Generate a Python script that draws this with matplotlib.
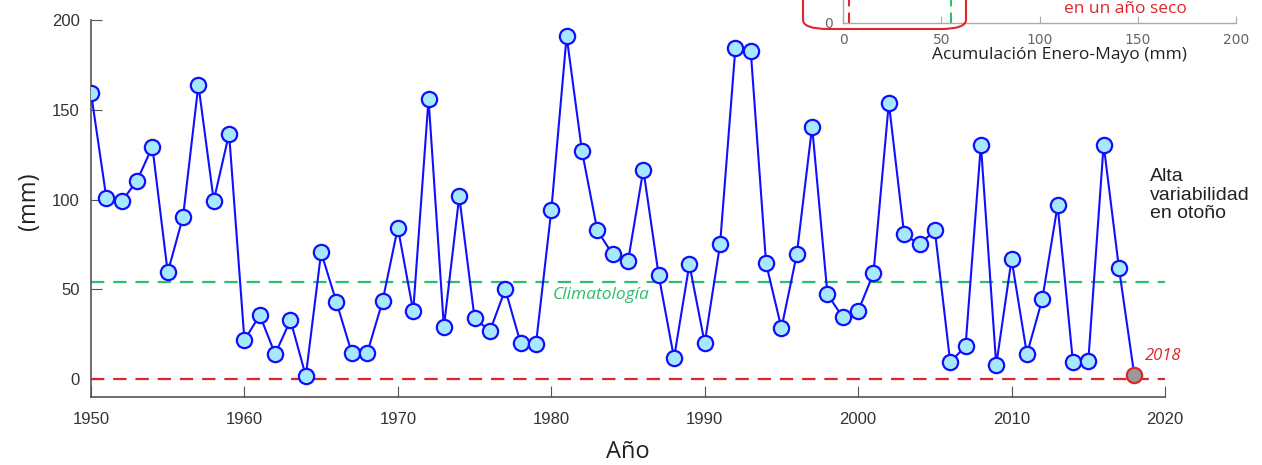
import matplotlib
matplotlib.use("Agg")
import matplotlib.pyplot as plt
from matplotlib.patches import FancyBboxPatch

years = list(range(1950, 2019))
values = [159.4, 101, 99, 110.5, 129.4, 59.4, 90.5, 163.9, 99.4, 136.7,
          21.7, 35.6, 13.9, 32.8, 1.7, 70.6, 42.8, 14.4, 14.4, 43.3,
          84.4, 37.8, 156, 28.9, 101.7, 33.9, 26.7, 50, 20, 19.4,
          93.9, 191, 127, 82.8, 69.4, 65.6, 116.7, 57.8, 11.7, 63.9,
          20, 75, 184.4, 182.8, 64.4, 28.3, 69.4, 140.6, 47.2, 34.4,
          37.8, 58.9, 153.9, 80.6, 75, 82.8, 9.4, 18.3, 130.6, 7.8,
          66.7, 13.9, 44.4, 96.7, 9.4, 10, 130.6, 61.7, 2.2]
climatologia = 54.0
seco = 0.0
xticks = [1950, 1960, 1970, 1980, 1990, 2000, 2010, 2020]
yticks = [0, 50, 100, 150, 200]
inset_xticks = [0, 50, 100, 150, 200]
inset_red = 3
inset_green = 55

W, H = 1262, 465
fig = plt.figure(figsize=(W/100, H/100), dpi=100)
ax = fig.add_axes([91/W, 1-397/H, (1165-91)/W, (397-20)/H])

gray = "#555555"
red = "#e0262c"
green = "#2dbd6b"

ax.axhline(climatologia, color=green, ls=(0, (6, 4)), lw=1.6, zorder=1)
ax.axhline(seco, color=red, ls=(0, (6, 4)), lw=1.6, zorder=1)
ax.plot(years[:-1], values[:-1], color="#1010ff", lw=1.5, marker="o", ms=11,
        mfc="#a8e8ff", mec="#1010ff", mew=1.6, zorder=3)
ax.plot(years[-2:], values[-2:], color="#1010ff", lw=1.5, zorder=2)
ax.plot(years[-1], values[-1], marker="o", ms=11, mfc="#999999", mec=red,
        mew=1.6, zorder=4, ls="none")

ax.set_xlim(1950, 2020)
ax.set_ylim(-10, 200)
ax.set_xticks(xticks)
ax.set_yticks(yticks)
for s in ["top", "right"]:
    ax.spines[s].set_visible(False)
for s in ["left", "bottom"]:
    ax.spines[s].set_color(gray)
    ax.spines[s].set_linewidth(1.2)
ax.tick_params(direction="in", length=8, color=gray, labelcolor="#333333",
               labelsize=12, pad=8)
ax.tick_params(axis="x", pad=11)
for lab in ax.get_xticklabels() + ax.get_yticklabels():
    lab.set_family("Liberation Sans")

ax.set_xlabel("Año", fontsize=17, family="Open Sans", color="#222222", labelpad=9)
ax.set_ylabel("(mm)", fontsize=17, family="Open Sans", color="#222222", labelpad=8)
ax.yaxis.set_label_coords(-0.047, 0.52)

ax.text(1980.1, 47, "Climatología", color=green, style="italic",
        fontsize=12.5, family="Open Sans", va="center", ha="left")
ax.text(2018.7, 13, "2018", color=red, style="italic", fontsize=12,
        family="Open Sans", ha="left", va="center")
fig.text(1150/W, 1-195/H, "Alta\nvariabilidad\nen otoño", fontsize=14,
         family="Liberation Sans", color="#222222", va="center", ha="left",
         linespacing=1.15)

# inset (partially cropped)
iax = fig.add_axes([843/W, 1-23/H, (1236-843)/W, 0.35])
iax.set_xlim(0, 200)
iax.set_ylim(0, 10)
iax.set_xticks(inset_xticks)
iax.set_yticks([0])
for s in ["top", "right"]:
    iax.spines[s].set_visible(False)
for s in ["left", "bottom"]:
    iax.spines[s].set_color("#aaaaaa")
    iax.spines[s].set_linewidth(1.0)
iax.tick_params(direction="in", length=5, color="#aaaaaa", labelcolor="#666666",
                labelsize=10, pad=7)
iax.patch.set_alpha(0)
iax.axvline(inset_red, color=red, ls=(0, (5, 3)), lw=1.5)
iax.axvline(inset_green, color=green, ls=(0, (5, 3)), lw=1.5)
fig.text(1059/W, 1-55/H, "Acumulación Enero-Mayo (mm)", fontsize=12.5,
         family="Open Sans", color="#222222", ha="center", va="center")

box = FancyBboxPatch((803/W, 1-29/H), (966-803)/W, 0.2,
                     boxstyle="round,pad=0,rounding_size=0.02",
                     transform=fig.transFigure, fill=False, ec=red, lw=1.5)
fig.add_artist(box)
fig.text(1125/W, 1-9/H, "en un año seco", color=red, fontsize=12.5,
         family="Open Sans", ha="center", va="center")

fig.savefig("out.png", dpi=100)
